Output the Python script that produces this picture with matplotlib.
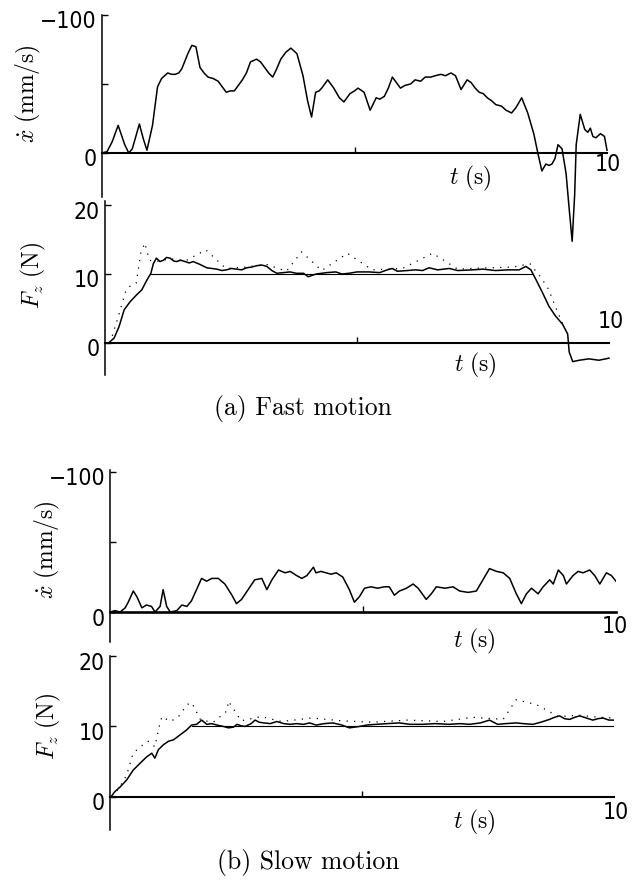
import matplotlib
matplotlib.use("Agg")
import matplotlib.pyplot as plt
from matplotlib import font_manager

plt.rcParams['mathtext.fontset'] = 'cm'

# (a) fast motion: velocity (mm/s, negative = upward on the plot)
t_vel_fast = [0.00, 0.10, 0.20, 0.32, 0.45, 0.53, 0.60, 0.74, 0.82, 0.89,
              1.00, 1.10, 1.18, 1.30, 1.38, 1.45, 1.52, 1.58, 1.70, 1.78,
              1.86, 1.94, 2.02, 2.10, 2.20, 2.30, 2.38, 2.46, 2.54, 2.62,
              2.70, 2.78, 2.86, 2.94, 3.06, 3.14, 3.22, 3.30, 3.38, 3.46,
              3.54, 3.64, 3.74, 3.86, 3.98, 4.07, 4.15, 4.23, 4.30, 4.35,
              4.47, 4.59, 4.70, 4.79, 4.91, 5.00, 5.07, 5.19, 5.31, 5.43,
              5.50, 5.59, 5.67, 5.75, 5.83, 5.91, 6.00, 6.11, 6.20, 6.31,
              6.40, 6.51, 6.60, 6.71, 6.80, 6.91, 7.00, 7.11, 7.23, 7.31,
              7.39, 7.47, 7.55, 7.63, 7.71, 7.80, 7.91, 8.00, 8.11, 8.20,
              8.31, 8.43, 8.55, 8.63, 8.71, 8.79, 8.85, 8.91, 8.97, 9.03,
              9.11, 9.19, 9.25, 9.31, 9.36, 9.39, 9.47, 9.56, 9.62, 9.67,
              9.72, 9.78, 9.87, 9.95, 10.0]
v_fast = [0, -1, -8, -20, -6, 0, -3, -21, -10, -2,
          -20, -48, -54, -58, -57, -57, -58, -61, -72, -78,
          -77, -62, -58, -55, -54, -52, -48, -44, -45, -45,
          -49, -53, -58, -66, -68, -66, -62, -58, -55, -61,
          -68, -73, -76, -72, -56, -38, -26, -44, -45, -47,
          -53, -47, -40, -37, -43, -45, -47, -44, -31, -40,
          -39, -41, -47, -55, -51, -47, -49, -50, -53, -52,
          -55, -55, -56, -57, -56, -58, -56, -46, -53, -51,
          -47, -44, -43, -40, -38, -35, -34, -31, -29, -33,
          -40, -29, -14, 0, 13, 8, 9, 8, 4, -6,
          -3, 15, 40, 64, 30, -6, -28, -17, -15, -18,
          -12, -11, -14, -12, -2]

# (a) fast motion: force (N)
t_force_fast = [0.00, 0.07, 0.18, 0.28, 0.38, 0.50, 0.63, 0.73, 0.83, 0.91,
                0.96, 1.02, 1.09, 1.16, 1.22, 1.29, 1.36, 1.42, 1.50, 1.59,
                1.67, 1.75, 1.88, 2.02, 2.12, 2.22, 2.32, 2.41, 2.51, 2.61,
                2.71, 2.81, 2.91, 3.01, 3.11, 3.21, 3.31, 3.41, 3.54, 3.67,
                3.80, 3.94, 4.03, 4.19, 4.40, 4.58, 4.70, 4.84, 5.00, 5.24,
                5.45, 5.60, 5.70, 5.80, 6.00, 6.16, 6.30, 6.43, 6.60, 6.83,
                7.00, 7.29, 7.50, 7.75, 8.00, 8.22, 8.35, 8.45, 8.55, 8.68,
                8.81, 8.94, 9.08, 9.18, 9.21, 9.28, 9.41, 9.60, 9.80, 10.0]
f_fast = [0.0, 0.0, 0.7, 2.4, 4.8, 6.0, 7.0, 7.7, 9.1, 10.1,
          11.5, 12.3, 11.8, 12.0, 12.4, 12.3, 11.9, 11.8, 12.0, 11.8,
          11.6, 11.8, 11.4, 10.9, 10.8, 10.7, 10.5, 10.6, 10.8, 10.7,
          10.6, 10.9, 11.0, 11.2, 11.3, 11.1, 10.5, 10.1, 10.2, 10.3,
          10.1, 10.1, 9.6, 10.0, 10.2, 10.3, 10.0, 10.1, 10.3, 10.3,
          10.2, 10.6, 10.8, 10.4, 10.5, 10.6, 10.5, 10.9, 10.6, 10.8,
          10.5, 10.6, 10.7, 10.5, 10.6, 10.6, 11.1, 10.6, 9.2, 7.3,
          5.3, 3.9, 2.7, 1.3, -1.3, -2.7, -2.5, -2.3, -2.5, -2.2]
t_ref_fast = [0.91, 8.5]
f_ref_fast = [10, 10]
t_dot_fast = [0.10, 0.25, 0.42, 0.52, 0.62, 0.71, 0.79, 0.88, 1.00, 1.30,
              1.60, 2.00, 2.40, 2.80, 3.20, 3.60, 3.90, 4.30, 4.81, 5.30,
              5.90, 6.50, 7.00, 7.60, 8.10, 8.43, 8.65, 8.80, 8.95, 9.10]
f_dot_fast = [0.0, 3.5, 7.7, 8.4, 8.7, 13.0, 14.5, 12.0, 11.8, 12.2,
              11.9, 13.5, 10.8, 11.0, 11.4, 10.4, 13.2, 10.5, 13.0, 10.6,
              10.8, 13.0, 10.7, 10.9, 11.0, 11.5, 9.5, 7.8, 5.0, 2.5]

# (b) slow motion: velocity
t_vel_slow = [0.00, 0.10, 0.20, 0.30, 0.36, 0.46, 0.53, 0.63, 0.72, 0.82,
              0.89, 0.99, 1.05, 1.12, 1.19, 1.32, 1.42, 1.52, 1.61, 1.71,
              1.81, 1.91, 2.01, 2.14, 2.27, 2.41, 2.50, 2.60, 2.73, 2.86,
              3.00, 3.10, 3.20, 3.33, 3.46, 3.56, 3.69, 3.79, 3.89, 4.02,
              4.07, 4.17, 4.27, 4.37, 4.47, 4.60, 4.73, 4.83, 4.93, 5.03,
              5.16, 5.29, 5.42, 5.52, 5.62, 5.72, 5.86, 5.99, 6.09, 6.25,
              6.35, 6.45, 6.62, 6.78, 6.91, 7.08, 7.24, 7.37, 7.50, 7.64,
              7.77, 7.90, 8.03, 8.13, 8.23, 8.33, 8.46, 8.56, 8.69, 8.76,
              8.86, 8.96, 9.02, 9.15, 9.25, 9.35, 9.48, 9.58, 9.68, 9.81,
              9.91, 10.0]
v_slow = [0, -1, 0, -3, -7, -15, -11, -3, -5, -4,
          0, -4, -16, -4, 0, -1, -5, -4, -8, -16,
          -24, -22, -24, -24, -20, -12, -6, -9, -16, -23,
          -24, -16, -23, -30, -28, -29, -26, -24, -26, -32,
          -28, -29, -28, -27, -28, -25, -16, -7, -11, -17,
          -18, -17, -18, -18, -12, -15, -17, -20, -17, -9,
          -13, -18, -17, -18, -15, -14, -15, -23, -31, -29,
          -28, -24, -13, -6, -13, -17, -13, -18, -23, -20,
          -30, -26, -20, -26, -29, -28, -30, -26, -20, -28,
          -26, -22]

# (b) slow motion: force
t_force_slow = [0.00, 0.02, 0.09, 0.20, 0.33, 0.46, 0.60, 0.73, 0.83, 0.89,
                0.96, 1.06, 1.16, 1.26, 1.39, 1.52, 1.62, 1.72, 1.82, 1.92,
                2.02, 2.12, 2.25, 2.35, 2.45, 2.52, 2.60, 2.68, 2.80, 2.88,
                2.96, 3.05, 3.18, 3.31, 3.45, 3.58, 3.70, 3.84, 3.96, 4.09,
                4.25, 4.42, 4.60, 4.75, 4.95, 5.10, 5.28, 5.50, 5.74, 5.95,
                6.20, 6.45, 6.73, 6.95, 7.13, 7.35, 7.53, 7.69, 7.85, 8.06,
                8.20, 8.39, 8.55, 8.72, 8.82, 8.92, 9.02, 9.12, 9.22, 9.32,
                9.45, 9.58, 9.68, 9.78, 9.90, 10.0]
f_slow = [0, 0, 0.7, 1.4, 2.4, 3.8, 4.8, 5.7, 6.2, 5.5,
          6.7, 7.4, 7.9, 8.1, 8.8, 9.5, 10.2, 10.3, 10.9, 10.3,
          10.4, 10.2, 10.0, 9.8, 9.9, 10.3, 10.1, 10.0, 10.4, 10.9,
          10.6, 10.5, 10.4, 10.7, 10.4, 10.3, 10.4, 10.3, 10.5, 10.2,
          10.4, 10.5, 10.2, 9.8, 10.0, 10.2, 10.3, 10.4, 10.5, 10.3,
          10.3, 10.4, 10.3, 10.4, 10.3, 10.5, 10.9, 10.3, 10.4, 10.5,
          10.4, 10.3, 10.6, 11.0, 11.3, 11.5, 11.1, 11.0, 11.3, 11.5,
          11.2, 10.9, 11.1, 11.2, 10.9, 10.9]
t_ref_slow = [1.62, 10.0]
f_ref_slow = [10, 10]
t_dot_slow = [0.05, 0.20, 0.33, 0.46, 0.60, 0.76, 0.89, 0.96, 1.03, 1.20,
              1.36, 1.53, 1.62, 1.80, 2.05, 2.32, 2.35, 2.60, 3.00, 3.40,
              4.00, 4.60, 5.20, 5.90, 6.60, 7.20, 7.80, 8.06, 8.46, 8.90,
              9.30, 9.70, 10.0]
f_dot_slow = [0.0, 1.5, 3.1, 6.2, 7.1, 7.9, 7.1, 9.5, 11.4, 10.7,
              11.4, 13.1, 13.4, 10.9, 10.6, 12.2, 13.6, 10.8, 11.4, 10.7,
              11.2, 10.8, 10.6, 10.9, 10.7, 11.3, 11.0, 13.8, 13.1, 11.4,
              11.6, 11.3, 11.2]

vel_ticks = [-100, -50, 0]
vel_ticklabels = ['\u2212100', '', '0']
force_ticks = [0, 10, 20]
force_ticklabels = ['0', '10', '20']

W, H = 632, 884

# narrow sans for the tick numbers if one is installed, else plain sans
narrow = [f for f in font_manager.fontManager.ttflist
          if f.stretch in ('condensed', 'semi-condensed')
          and f.style == 'normal' and f.weight in (400, 'normal')
          and ('Sans' in f.name)]
if narrow:
    TICK_KW = dict(fontproperties=font_manager.FontProperties(
        fname=narrow[0].fname, size=16.5))
else:
    TICK_KW = dict(family=['Liberation Sans', 'DejaVu Sans'], fontsize=15.5)

fig = plt.figure(figsize=(W / 100, H / 100), dpi=100)
fig.patch.set_facecolor('white')


def px_axes(x0, y0, x1, y1):
    # pixel box (top-left origin) -> figure fraction
    return fig.add_axes([x0 / W, 1 - y1 / H, (x1 - x0) / W, (y1 - y0) / H])


def make_panel(box, ylim, ticks, ticklabels, ylabel, ylabel_xy,
               ten_off, t_off, zero_lw=1.5):
    ax = px_axes(*box)
    ax.set_xlim(0, 10)
    ax.set_ylim(*ylim)
    ax.patch.set_alpha(0)
    for s in ('top', 'right'):
        ax.spines[s].set_visible(False)
    ax.spines['bottom'].set_position(('data', 0))
    ax.spines['bottom'].set_linewidth(zero_lw)
    ax.spines['left'].set_linewidth(1.1)
    ax.set_xticks([5])
    ax.set_xticklabels([])
    ax.set_yticks(ticks)
    ax.set_yticklabels([])
    ax.tick_params(direction='in', length=4, width=1)
    for v, lab in zip(ticks, ticklabels):
        if lab:
            ax.annotate(lab, xy=(0, v), xycoords=('axes fraction', 'data'),
                        xytext=(-5, -7), textcoords='offset pixels',
                        ha='right', va='center', **TICK_KW)
    ax.annotate('10', xy=(10, 0), xycoords='data', xytext=ten_off,
                textcoords='offset pixels', ha='center', va='center',
                **TICK_KW)
    ax.annotate(r'$t\ \mathrm{(s)}$', xy=(10, 0), xycoords='data',
                xytext=t_off, textcoords='offset pixels',
                ha='center', va='center', fontsize=17)
    fig.text(ylabel_xy[0] / W, 1 - ylabel_xy[1] / H, ylabel, rotation=90,
             ha='center', va='center', fontsize=17)
    return ax


vel_label = r'$\dot{x}\ \mathrm{(mm/s)}$'
force_label = r'$F_z\ \mathrm{(N)}$'
DOTS = (0, (1, 5))

# (a) velocity
ax1 = make_panel((102, 15, 607, 197), (31.9, -100), vel_ticks, vel_ticklabels,
                 vel_label, (28, 94), (1, -12), (-137, -25))
ax1.plot(t_vel_fast, v_fast, color='k', lw=1.1, clip_on=False)

# (a) force
ax2 = make_panel((105, 201, 609, 375), (-4.64, 20.58), force_ticks,
                 force_ticklabels, force_label, (33, 275), (2, 21), (-134, -22))
ax2.plot(t_ref_fast, f_ref_fast, color='k', lw=0.8)
ax2.plot(t_dot_fast, f_dot_fast, color='k', lw=0.9, ls=DOTS)
ax2.plot(t_force_fast, f_fast, color='k', lw=1.1, clip_on=False)

# (b) velocity
ax3 = make_panel((110, 470, 616, 642), (21.4, -101.4), vel_ticks,
                 vel_ticklabels, vel_label, (47, 550), (-1, -14), (-142, -29),
                 zero_lw=1.9)
ax3.plot(t_vel_slow, v_slow, color='k', lw=1.1)

# (b) force
ax4 = make_panel((110, 656, 614, 830), (-4.7, 20.0), force_ticks,
                 force_ticklabels, force_label, (48, 726), (2, -16), (-140, -26))
ax4.plot(t_ref_slow, f_ref_slow, color='k', lw=0.8)
ax4.plot(t_dot_slow, f_dot_slow, color='k', lw=0.9, ls=DOTS)
ax4.plot(t_force_slow, f_slow, color='k', lw=1.1)

fig.text(303 / W, 1 - 408 / H, '(a) Fast motion', ha='center', va='center',
         fontsize=18.5, family='cmr10')
fig.text(308 / W, 1 - 862 / H, '(b) Slow motion', ha='center', va='center',
         fontsize=18.5, family='cmr10')

fig.savefig('out.png', dpi=100)
